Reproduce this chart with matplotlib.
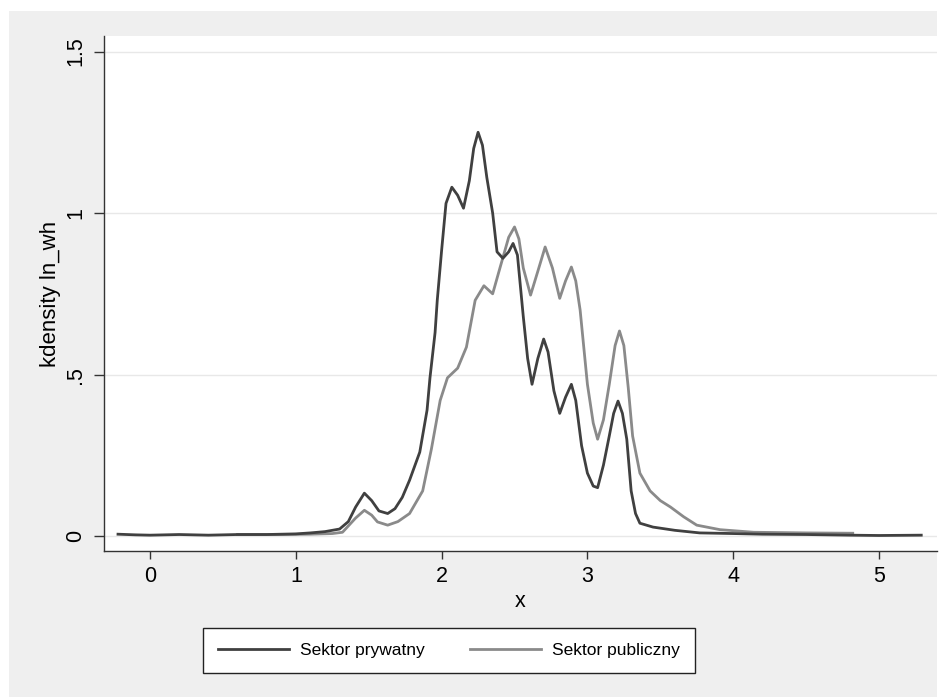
import matplotlib.pyplot as plt
from matplotlib.patches import Rectangle

plt.rcParams['font.family'] = ['Liberation Sans', 'DejaVu Sans']

# kernel density, private sector
priv_x = [-0.22, -0.1, 0.0, 0.2, 0.4, 0.6, 0.8, 1.0, 1.1, 1.2, 1.3, 1.36, 1.41, 1.47,
          1.52, 1.57, 1.63, 1.68, 1.73, 1.78, 1.85, 1.90, 1.92, 1.955, 1.97, 2.0,
          2.03, 2.07, 2.11, 2.15, 2.19, 2.22, 2.25, 2.28, 2.31, 2.35, 2.38, 2.42,
          2.46, 2.49, 2.52, 2.56, 2.59, 2.62, 2.66, 2.70, 2.73, 2.77, 2.81, 2.85,
          2.89, 2.92, 2.96, 3.0, 3.04, 3.07, 3.11, 3.15, 3.18, 3.21, 3.24, 3.27,
          3.30, 3.33, 3.36, 3.45, 3.6, 3.77, 4.0, 4.2, 4.5, 4.8, 5.0, 5.29]
priv_y = [0.006, 0.004, 0.003, 0.005, 0.003, 0.005, 0.005, 0.007, 0.01, 0.014, 0.022,
          0.045, 0.09, 0.133, 0.11, 0.078, 0.07, 0.085, 0.12, 0.173, 0.26, 0.39,
          0.49, 0.63, 0.73, 0.885, 1.03, 1.08, 1.055, 1.015, 1.10, 1.20, 1.25,
          1.21, 1.11, 1.0, 0.88, 0.86, 0.88, 0.906, 0.87, 0.68, 0.55, 0.47, 0.55,
          0.61, 0.57, 0.45, 0.38, 0.43, 0.47, 0.42, 0.28, 0.195, 0.155, 0.15, 0.22,
          0.31, 0.38, 0.418, 0.38, 0.30, 0.14, 0.07, 0.04, 0.028, 0.018, 0.01,
          0.008, 0.006, 0.005, 0.003, 0.002, 0.003]

# kernel density, public sector
publ_x = [0.6, 0.9, 1.1, 1.25, 1.32, 1.41, 1.47, 1.52, 1.56, 1.63, 1.7, 1.78, 1.87,
          1.93, 1.99, 2.04, 2.11, 2.17, 2.23, 2.29, 2.35, 2.40, 2.46, 2.50, 2.53,
          2.56, 2.61, 2.66, 2.71, 2.76, 2.81, 2.85, 2.89, 2.92, 2.95, 3.0, 3.04,
          3.07, 3.11, 3.15, 3.19, 3.22, 3.25, 3.28, 3.31, 3.36, 3.43, 3.50, 3.57,
          3.66, 3.75, 3.91, 4.14, 4.5, 4.82]
publ_y = [0.005, 0.005, 0.006, 0.008, 0.012, 0.056, 0.08, 0.065, 0.044, 0.034, 0.045,
          0.07, 0.14, 0.27, 0.42, 0.49, 0.52, 0.585, 0.73, 0.775, 0.75, 0.83, 0.925,
          0.957, 0.92, 0.83, 0.746, 0.82, 0.895, 0.83, 0.736, 0.79, 0.833, 0.79,
          0.70, 0.47, 0.35, 0.30, 0.36, 0.47, 0.59, 0.635, 0.59, 0.46, 0.31, 0.195,
          0.14, 0.11, 0.09, 0.06, 0.034, 0.02, 0.012, 0.01, 0.009]

x_ticks = [0, 1, 2, 3, 4, 5]
y_ticks = [0, 0.5, 1, 1.5]
y_tick_labels = ['0', '.5', '1', '1.5']
series_names = ['Sektor prywatny', 'Sektor publiczny']

fig = plt.figure(figsize=(9.48, 6.98), dpi=100)
fig.patch.set_facecolor('white')
# grey Stata-like background behind the plot region
fig.patches.append(Rectangle((9 / 948, 1 / 698), 928 / 948, 686 / 698,
                             transform=fig.transFigure, facecolor='#efefef',
                             edgecolor='none', zorder=-10))

ax = fig.add_axes([104 / 948, 1 - 551 / 698, 833 / 948, 515 / 698])
ax.set_zorder(1)
ax.set_facecolor('white')

ax.plot(publ_x, publ_y, color='#8a8a8a', lw=2.0, label=series_names[1], zorder=3)
ax.plot(priv_x, priv_y, color='#404040', lw=2.0, label=series_names[0], zorder=4)

ax.set_xlim(-0.316, 5.398)
ax.set_ylim(-0.046, 1.548)
ax.set_xticks(x_ticks)
ax.set_yticks(y_ticks)
ax.set_yticklabels(y_tick_labels, rotation=90, va='center')
ax.yaxis.grid(True, color='#e8e8e8', lw=1)
ax.set_axisbelow(True)

for s in ['top', 'right']:
    ax.spines[s].set_visible(False)
for s in ['left', 'bottom']:
    ax.spines[s].set_color('#333333')
    ax.spines[s].set_linewidth(1.0)

ax.tick_params(axis='x', length=6, width=1, color='#333333', pad=5, labelsize=15.5)
ax.tick_params(axis='y', length=7, width=1, color='#333333', pad=6, labelsize=15.5)

ax.set_xlabel('x', fontsize=15.5, labelpad=3)
ax.set_ylabel('kdensity ln_wh', fontsize=16, labelpad=3)

handles, labels = ax.get_legend_handles_labels()
order = [1, 0]
leg = fig.legend([handles[i] for i in order], [labels[i] for i in order],
                 loc='center', bbox_to_anchor=(449 / 948, 1 - 650.5 / 698),
                 ncol=2, fontsize=12.5, frameon=True, fancybox=False,
                 handlelength=4.1, handletextpad=0.65, columnspacing=2.6,
                 borderpad=0.85)
leg.set_zorder(5)
leg.get_frame().set_edgecolor('#222222')
leg.get_frame().set_linewidth(1.0)
leg.get_frame().set_facecolor('white')
leg.get_frame().set_alpha(1)

fig.savefig('out.png', dpi=100, facecolor=fig.get_facecolor())
